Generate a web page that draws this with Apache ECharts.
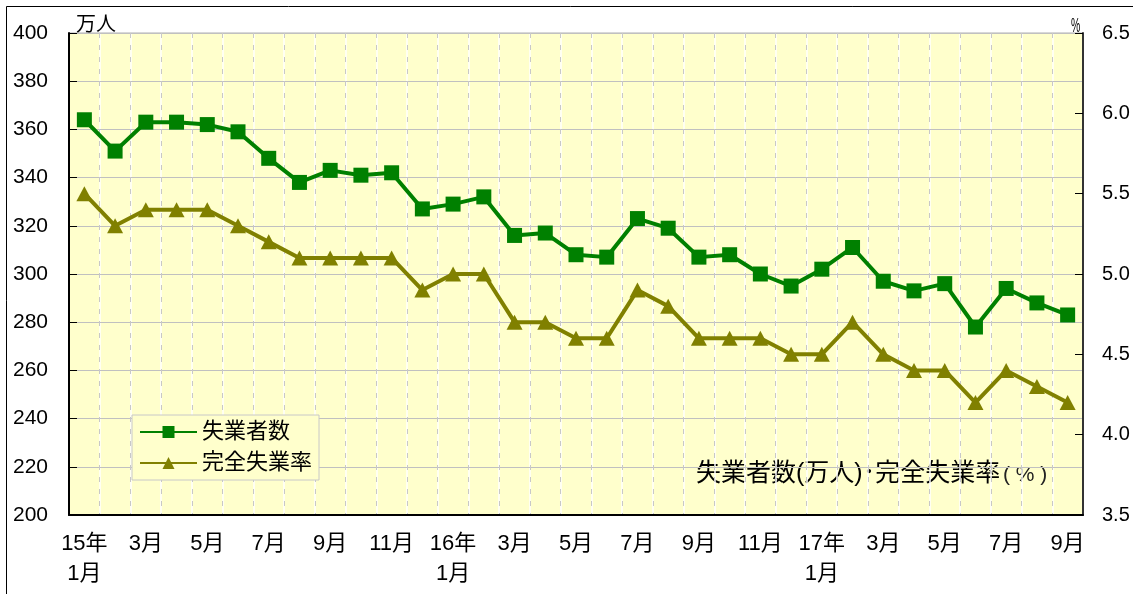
<!DOCTYPE html>
<html>
<head>
<meta charset="utf-8">
<script src="https://cdn.jsdelivr.net/npm/echarts@6/dist/echarts.min.js"></script>
<style>
html,body{margin:0;padding:0;background:#fff;}
#c{width:1133px;height:594px;}
</style>
</head>
<body>
<div id="c"></div>
<script>
const categories = ['15年\n1月','2月','3月','4月','5月','6月','7月','8月','9月','10月','11月','12月',
  '16年\n1月','2月','3月','4月','5月','6月','7月','8月','9月','10月','11月','12月',
  '17年\n1月','2月','3月','4月','5月','6月','7月','8月','9月'];
const unemployed = [364,351,363,363,362,359,348,338,343,341,342,327,
  329,332,316,317,308,307,323,319,307,308,300,295,
  302,311,297,293,296,278,294,288,283];
const unemploymentRate = [5.5,5.3,5.4,5.4,5.4,5.3,5.2,5.1,5.1,5.1,5.1,4.9,
  5.0,5.0,4.7,4.7,4.6,4.6,4.9,4.8,4.6,4.6,4.6,4.5,
  4.5,4.7,4.5,4.4,4.4,4.2,4.4,4.3,4.2];
const seriesNames = ['失業者数','完全失業率'];
const leftUnit = '万人';
const rightUnit = '%';
const noteText = '失業者数(万人)･完全失業率';
const noteUnit = '( % )';

const FONT = 'Liberation Sans, Arial, "Noto Sans CJK JP", sans-serif';
const chart = echarts.init(document.getElementById('c'), null, {renderer:'canvas'});
chart.setOption({
  animation:false,
  backgroundColor:'#ffffff',
  textStyle:{fontFamily:FONT},
  grid:{left:69,right:50,top:33,bottom:79,show:true,backgroundColor:'#ffffcc',borderColor:'#b0b0b0',borderWidth:1},
  legend:{
    orient:'vertical',left:132,top:415,
    backgroundColor:'#ffffcc',borderColor:'#c8c8c8',borderWidth:1,
    padding:[6,7,6,7],itemWidth:57,itemHeight:15,itemGap:9,
    textStyle:{fontSize:22,color:'#000',fontFamily:FONT},
    data:seriesNames
  },
  xAxis:[{
    type:'category',data:categories,boundaryGap:true,z:1,
    axisLine:{lineStyle:{color:'#000',width:2}},
    axisTick:{inside:true,length:8,interval:0,lineStyle:{color:'#000',width:1}},
    axisLabel:{interval:1,fontSize:22,color:'#000',margin:14,lineHeight:30,fontFamily:FONT},
    splitLine:{show:true,interval:0,lineStyle:{color:'#c8c8c8',type:[5,7],width:1}}
  },{
    type:'category',data:categories,boundaryGap:true,position:'bottom',z:0,
    axisLine:{show:false},axisTick:{show:false},axisLabel:{show:false},
    splitLine:{show:true,interval:0,lineStyle:{color:'#ffffff',width:1.5}}
  }],
  yAxis:[{
    type:'value',min:200,max:400,interval:20,position:'left',z:1,
    axisLine:{show:true,lineStyle:{color:'#000',width:2}},
    axisTick:{show:true,inside:true,length:8,lineStyle:{color:'#000'}},
    axisLabel:{fontSize:21,color:'#000',margin:21,fontFamily:FONT},
    splitLine:{show:true,lineStyle:{color:'#c0c0c0',width:1}}
  },{
    type:'value',min:3.5,max:6.5,interval:0.5,position:'right',z:1,
    axisLine:{show:true,lineStyle:{color:'#333',width:2}},
    axisTick:{show:true,inside:true,length:8,lineStyle:{color:'#000'}},
    axisLabel:{fontSize:20,color:'#000',margin:19,formatter:v=>v.toFixed(1),fontFamily:FONT},
    splitLine:{show:false}
  }],
  series:[{
    name:seriesNames[0],type:'line',data:unemployed,yAxisIndex:0,
    symbol:'rect',symbolSize:15,
    lineStyle:{color:'#008000',width:4},itemStyle:{color:'#008000'}
  },{
    name:seriesNames[1],type:'line',data:unemploymentRate,yAxisIndex:1,
    symbol:'triangle',symbolSize:[16,15],
    lineStyle:{color:'#808000',width:4},itemStyle:{color:'#808000'}
  }],
  graphic:[
    {type:'line',shape:{x1:6.5,y1:6.5,x2:1140,y2:6.5},style:{stroke:'#000',lineWidth:1}},
    {type:'line',shape:{x1:6.5,y1:6.5,x2:6.5,y2:600},style:{stroke:'#000',lineWidth:1}},
    {type:'text',left:76,top:15,style:{text:leftUnit,fontSize:20,fill:'#000',fontFamily:FONT}},
    {type:'text',x:1071,y:16,scaleX:0.52,style:{text:rightUnit,fontSize:20,fill:'#000',fontFamily:FONT,verticalAlign:'top'}},
    {type:'text',left:696,top:462,style:{text:noteText,fontSize:25,fill:'#000',fontFamily:FONT}},
    {type:'text',left:1003,top:465,style:{text:noteUnit,fontSize:21,fill:'#222',fontFamily:FONT}}
  ]
});
</script>
</body>
</html>
